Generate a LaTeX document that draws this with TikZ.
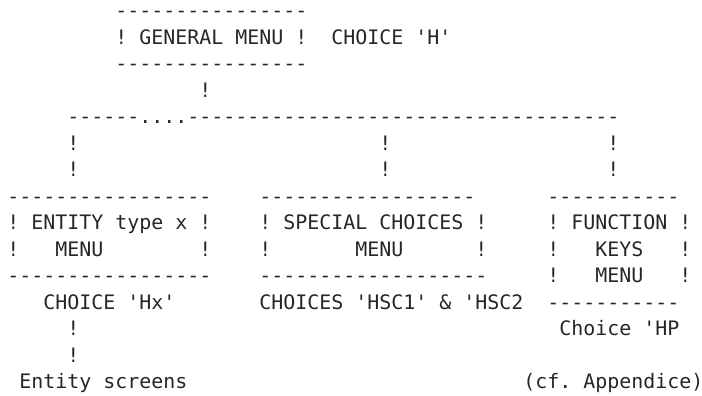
\documentclass[tikz,border=0pt]{standalone}
\usepackage{fontspec}
\setmonofont{DejaVu Sans Mono}

\tikzstyle{txt} = [anchor=base west,inner sep=0pt,outer sep=0pt,text=black!85,font=\ttfamily\fontsize{9.97pt}{12pt}\selectfont]

\begin{document}
\begin{tikzpicture}[x=6pt,y=-13.25pt]
	\useasboundingbox (-0.608,0.332) rectangle (57.892,15.238);
	% general menu
	\node (gentop) [txt] at (9,1) {----------------};
	\node (genbox) [txt] at (9,2) {! GENERAL MENU !};
	\node (genchoice) [txt] at (27,2) {CHOICE 'H'};
	\node (genbot) [txt] at (9,3) {----------------};
	\node (genbar) [txt] at (16,4) {!};
	\node (bus) [txt] at (5,5) {------....------------------------------------};
	\node (barA1) [txt] at (5,6) {!};
	\node (barB1) [txt] at (31,6) {!};
	\node (barC1) [txt] at (50,6) {!};
	\node (barA2) [txt] at (5,7) {!};
	\node (barB2) [txt] at (31,7) {!};
	\node (barC2) [txt] at (50,7) {!};
	% entity menu
	\node (enttop) [txt] at (0,8) {-----------------};
	\node (entbox) [txt] at (0,9) {! ENTITY type x !};
	\node (entleft) [txt] at (0,10) {!};
	\node (entmenu) [txt] at (4,10) {MENU};
	\node (entright) [txt] at (16,10) {!};
	\node (entbot) [txt] at (0,11) {-----------------};
	\node (entchoice) [txt] at (3,12) {CHOICE 'Hx'};
	\node (entbar1) [txt] at (5,13) {!};
	\node (entbar2) [txt] at (5,14) {!};
	\node (entscreens) [txt] at (1,15) {Entity screens};
	% special choices menu
	\node (spetop) [txt] at (21,8) {------------------};
	\node (spebox) [txt] at (21,9) {! SPECIAL CHOICES !};
	\node (speleft) [txt] at (21,10) {!};
	\node (spemenu) [txt] at (29,10) {MENU};
	\node (speright) [txt] at (39,10) {!};
	\node (spebot) [txt] at (21,11) {-------------------};
	\node (spechoice) [txt] at (21,12) {CHOICES 'HSC1' \& 'HSC2};
	% function keys menu
	\node (funtop) [txt] at (45,8) {-----------};
	\node (funbox) [txt] at (45,9) {! FUNCTION !};
	\node (funleft1) [txt] at (45,10) {!};
	\node (funkeys) [txt] at (49,10) {KEYS};
	\node (funright1) [txt] at (56,10) {!};
	\node (funleft2) [txt] at (45,11) {!};
	\node (funmenu) [txt] at (49,11) {MENU};
	\node (funright2) [txt] at (56,11) {!};
	\node (funbot) [txt] at (45,12) {-----------};
	\node (funchoice) [txt] at (46,13) {Choice 'HP};
	\node (funappendix) [txt] at (43,15) {(cf. Appendice)};
\end{tikzpicture}
\end{document}
